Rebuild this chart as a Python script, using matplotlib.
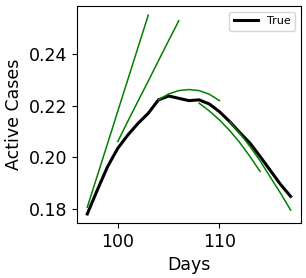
import matplotlib
matplotlib.use("Agg")
import matplotlib.pyplot as plt

# true curve
days = list(range(97, 118))
active = [0.1779, 0.1873, 0.1963, 0.2034, 0.2086, 0.2131, 0.2170, 0.2222,
          0.2237, 0.2228, 0.2219, 0.2222, 0.2206, 0.2176, 0.2138, 0.2095,
          0.2054, 0.2002, 0.1948, 0.1894, 0.1847]

# forecast windows (start day, values)
pred_starts = [97, 100, 104, 108, 111]
pred_values = [
    [0.1805, 0.1929, 0.2053, 0.2178, 0.2302, 0.2427, 0.2551],
    [0.2060, 0.2140, 0.2218, 0.2295, 0.2374, 0.2452, 0.2529],
    [0.2222, 0.2245, 0.2258, 0.2262, 0.2258, 0.2244, 0.2219],
    [0.2209, 0.2179, 0.2144, 0.2103, 0.2056, 0.2002, 0.1944],
    [0.2138, 0.2092, 0.2041, 0.1985, 0.1922, 0.1860, 0.1794],
]

fig = plt.figure(figsize=(3.06, 2.78), dpi=100)
ax = fig.add_axes([0.252, 0.198, 0.731, 0.780])

ax.plot(days, active, color='black', linewidth=2.2, label='True')
for start, vals in zip(pred_starts, pred_values):
    ax.plot(range(start, start + len(vals)), vals, color='green', linewidth=1.1)

ax.set_xticks([100, 110])
ax.set_yticks([0.18, 0.20, 0.22, 0.24])
ax.set_ylim(0.1744, 0.2586)
ax.tick_params(labelsize=12.5)
ax.set_xlabel('Days', fontsize=12.5)
ax.set_ylabel('Active Cases', fontsize=12.5)
ax.legend(loc='upper right', fontsize=8, handlelength=2.2)

fig.savefig('out.png', dpi=100)
